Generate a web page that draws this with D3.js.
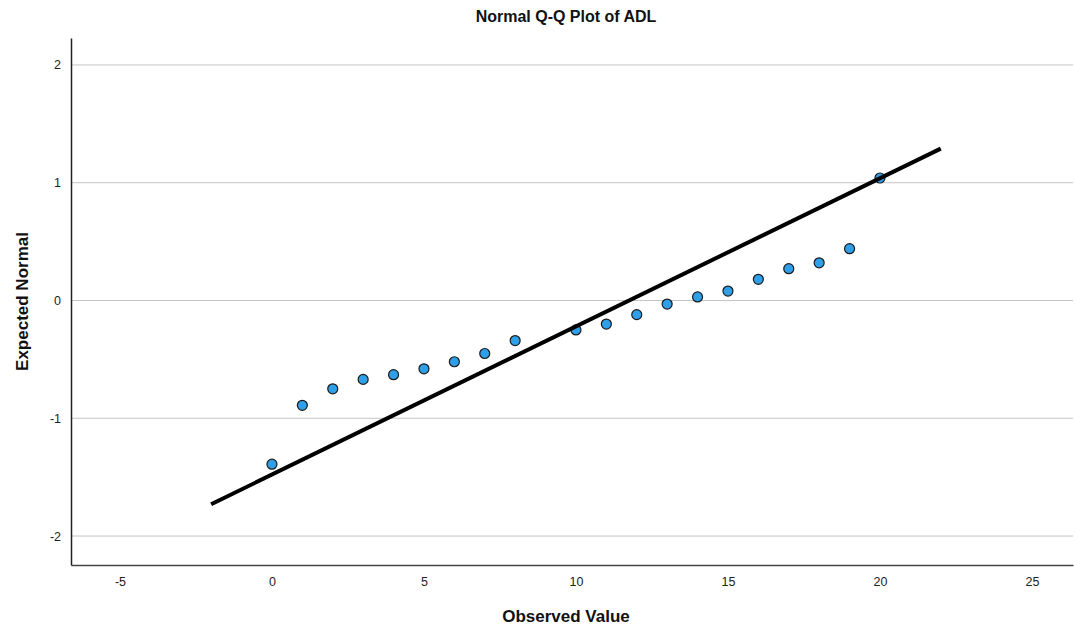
<!DOCTYPE html>
<html>
<head>
<meta charset="utf-8">
<title>Normal Q-Q Plot of ADL</title>
<script src="https://d3js.org/d3.v7.min.js"></script>
<style>
  body { margin: 0; background: #fff; }
  text { font-family: Arial, "Liberation Sans", sans-serif; }
</style>
</head>
<body>
<script>
// observed values and their expected normal scores
var observed = [0, 1, 2, 3, 4, 5, 6, 7, 8, 10, 11, 12, 13, 14, 15, 16, 17, 18, 19, 20];
var expected = [-1.39, -0.89, -0.75, -0.67, -0.63, -0.58, -0.52, -0.45, -0.34, -0.25,
                -0.20, -0.12, -0.03, 0.03, 0.08, 0.18, 0.27, 0.32, 0.44, 1.04];
// reference line end points
var lineX = [-2, 22];
var lineY = [-1.73, 1.29];
var xTicks = [-5, 0, 5, 10, 15, 20, 25];
var yTicks = [-2, -1, 0, 1, 2];

var W = 1075, H = 627;
var mLeft = 71, mRight = 1073, mTop = 38, mBottom = 565;

var svg = d3.select("body").append("svg")
  .attr("width", W)
  .attr("height", H);

var x = d3.scaleLinear().domain([-6.61, 26.35]).range([mLeft, mRight]);
var y = d3.scaleLinear().domain([-2.246, 2.229]).range([mBottom, mTop]);

var fmt = function(d){ return String(d); }; // plain hyphen minus, as in the original

// gridlines
svg.append("g").selectAll("line")
  .data(yTicks)
  .enter().append("line")
  .attr("x1", mLeft).attr("x2", mRight)
  .attr("y1", function(d){ return y(d); })
  .attr("y2", function(d){ return y(d); })
  .attr("stroke", "#c4c4c4")
  .attr("stroke-width", 1);

// axes
var xAxis = svg.append("g")
  .attr("transform", "translate(0," + mBottom + ")")
  .call(d3.axisBottom(x).tickValues(xTicks).tickFormat(fmt).tickSize(0).tickPadding(12));
xAxis.select(".domain").attr("stroke", "#444").attr("stroke-width", 1.5);
xAxis.selectAll("text").attr("font-size", 12.5).attr("fill", "#222");

var yAxis = svg.append("g")
  .attr("transform", "translate(" + mLeft + ",0)")
  .call(d3.axisLeft(y).tickValues(yTicks).tickFormat(fmt).tickSize(0).tickPadding(10));
yAxis.select(".domain").attr("stroke", "#222").attr("stroke-width", 1.5);
yAxis.selectAll("text").attr("font-size", 12.5).attr("fill", "#222");

// points
svg.append("g").selectAll("circle")
  .data(observed)
  .enter().append("circle")
  .attr("cx", function(d){ return x(d); })
  .attr("cy", function(d, i){ return y(expected[i]); })
  .attr("r", 5)
  .attr("fill", "#2f9fe8")
  .attr("stroke", "#1a1a1a")
  .attr("stroke-width", 1.2);

// reference line, drawn over the points
svg.append("line")
  .attr("x1", x(lineX[0])).attr("y1", y(lineY[0]))
  .attr("x2", x(lineX[1])).attr("y2", y(lineY[1]))
  .attr("stroke", "#000")
  .attr("stroke-width", 4);

// title and labels
svg.append("text")
  .attr("x", 566).attr("y", 22)
  .attr("text-anchor", "middle")
  .attr("font-size", 16).attr("font-weight", "bold")
  .attr("fill", "#111")
  .text("Normal Q-Q Plot of ADL");

svg.append("text")
  .attr("x", 566).attr("y", 622)
  .attr("text-anchor", "middle")
  .attr("font-size", 17).attr("font-weight", "bold")
  .attr("fill", "#111")
  .text("Observed Value");

svg.append("text")
  .attr("transform", "translate(28," + ((mTop + mBottom) / 2) + ") rotate(-90)")
  .attr("text-anchor", "middle")
  .attr("font-size", 17).attr("font-weight", "bold")
  .attr("fill", "#111")
  .text("Expected Normal");
</script>
</body>
</html>
